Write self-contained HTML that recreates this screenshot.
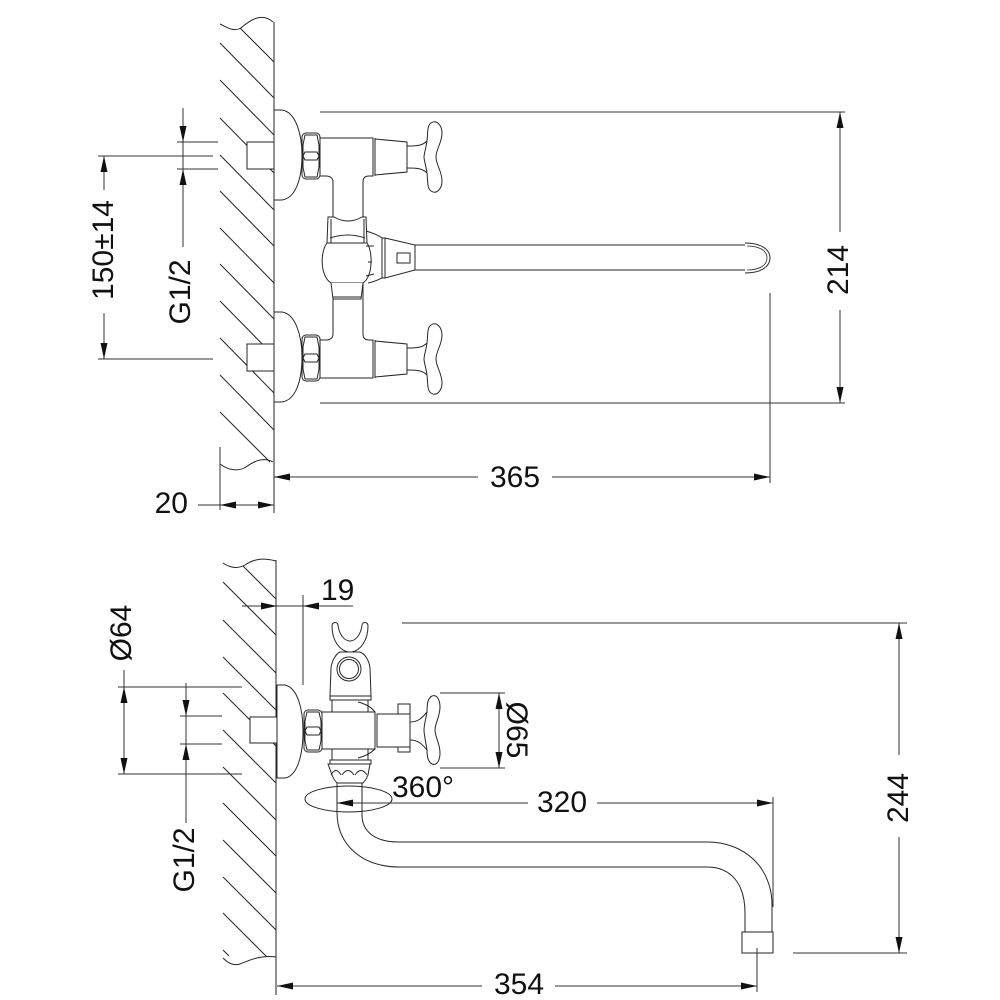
<!DOCTYPE html>
<html><head><meta charset="utf-8"><style>
html,body{margin:0;padding:0;background:#fff}
svg{display:block}
.l{stroke:#262626;stroke-width:1;fill:none}
.w{stroke:#262626;stroke-width:1;fill:#fff}
.d{stroke:#333;stroke-width:1;fill:none}
.a{fill:#111;stroke:none}
text{font-family:"Liberation Sans",sans-serif;font-size:30px;fill:#111}
</style></head><body>
<svg width="1000" height="1000" viewBox="0 0 1000 1000" xmlns="http://www.w3.org/2000/svg">
<!-- ================= TOP VIEW ================= -->
<path class="l" d="M240,28 L274,62 M220,43 L274,98 M220,80 L274,135 M220,118 L274,173 M220,155 L274,210 M220,191 L274,246 M220,228 L274,283 M220,264 L274,319 M220,301 L274,356 M220,338 L274,393 M220,375 L274,430 M220,412 L270,462"/>
<path class="l" d="M220,24 C228,28 234,32 241,28 C250,20 262,12 273,22"/>
<path class="l" d="M220,464 C228,470 238,472 246,467 C254,461 264,457 273,462"/>
<path class="l" d="M274,22 L274,513"/>
<g>
<path class="w" d="M274,110 L282,110 C296,112 302,135 302,155 C302,178 296,198 282,200 L274,200 Z"/>
<rect class="w" x="247" y="142" width="27" height="27"/>
<rect class="w" x="302" y="133" width="18" height="46" rx="4"/>
<path class="l" d="M305,135 L317,135 L319,145 L319,167 L317,177 L305,177 L303,167 L303,145 Z M303,156 L305,152 L317,152 L319,156 L317,160 L305,160 Z"/>
<path class="w" d="M375,139 L407,142 L407,172 L375,175 Z"/>
<path class="l" d="M407,146 C416,146 422,146 427,141 M407,168 C416,168 422,168 427,173"/>
<path class="w" d="M427,141 C428,132 427,126 431,123 C437,119 442,126 442,133 C442,143 436,149 436,157 C436,165 442,171 442,181 C442,188 437,195 431,191 C427,188 428,182 427,173 C426,166 424,160 424,157 C424,154 426,148 427,141 Z"/>
</g>
<g transform="translate(0,202)">
<path class="w" d="M274,110 L282,110 C296,112 302,135 302,155 C302,178 296,198 282,200 L274,200 Z"/>
<rect class="w" x="247" y="142" width="27" height="27"/>
<rect class="w" x="302" y="133" width="18" height="46" rx="4"/>
<path class="l" d="M305,135 L317,135 L319,145 L319,167 L317,177 L305,177 L303,167 L303,145 Z M303,156 L305,152 L317,152 L319,156 L317,160 L305,160 Z"/>
<path class="w" d="M375,139 L407,142 L407,172 L375,175 Z"/>
<path class="l" d="M407,146 C416,146 422,146 427,141 M407,168 C416,168 422,168 427,173"/>
<path class="w" d="M427,141 C428,132 427,126 431,123 C437,119 442,126 442,133 C442,143 436,149 436,157 C436,165 442,171 442,181 C442,188 437,195 431,191 C427,188 428,182 427,173 C426,166 424,160 424,157 C424,154 426,148 427,141 Z"/>
</g>
<path class="w" d="M320,138 L373,138 L373,176 L369,176 C365,176 363,178 363,182 L363,334 C363,338 365,340 369,340 L373,340 L373,378 L320,378 L320,340 L326,340 C330,340 333,338 333,334 L333,182 C333,178 330,176 326,176 L320,176 Z"/>
<path class="l" d="M375,138 L375,176 M375,340 L375,378"/>
<path class="w" d="M328,217 L334,217 Q348,225 362,217 L366,217 L367,243 L327,243 Z"/>
<path class="l" d="M331,219 L331,243 M364,219 L364,243 M330,238 Q348,232 365,238"/>
<path class="w" d="M327,243 C320,252 320,276 331,283 L363,283 C373,276 373,252 367,243 Z"/>
<path class="w" d="M331,283 L333,299 L361,299 L363,283"/>
<path class="l" d="M333,297 L361,297"/>
<path class="l" d="M366,231 C373,233 378,235 382,238 M368,283 C374,282 378,280 382,278 M366,246 L374,246 M368,262 L372,262 M366,276 L374,274"/>
<rect class="w" x="382" y="238" width="3" height="40"/>
<path class="w" d="M385,238 L415,245 L415,270 L385,278 Z"/>
<rect class="l" x="397" y="253" width="13" height="10"/>
<path class="l" d="M415,245 L745,245 M415,270 L745,270"/>
<path class="l" d="M745,243 C762,243 770,250 770,258 C770,266 762,273 745,273"/>
<path class="l" style="stroke-width:0.8" d="M747,246 C760,246 767,251 767,258 C767,265 760,270 747,270"/>
<!-- top dims -->
<path class="d" d="M320,112 L845,112 M320,403 L845,403 M840,112 L840,232 M840,310 L840,403"/>
<polygon class="a" points="840,112 836.5,128 843.5,128"/>
<polygon class="a" points="840,403 836.5,387 843.5,387"/>
<text transform="translate(848,270) rotate(-90)" text-anchor="middle">214</text>
<path class="d" d="M770,293 L770,483 M274,477 L478,477 M552,477 L770,477"/>
<polygon class="a" points="274,477 290,473.5 290,480.5"/>
<polygon class="a" points="770,477 754,473.5 754,480.5"/>
<text x="515" y="487" text-anchor="middle">365</text>
<path class="d" d="M220,447 L220,510 M198,505 L274,505"/>
<polygon class="a" points="220,505 236,501.5 236,508.5"/>
<polygon class="a" points="274,505 258,501.5 258,508.5"/>
<text x="188" y="513" text-anchor="end">20</text>
<path class="d" d="M98,156 L213,156 M98,359 L213,359 M104,156 L104,190 M104,313 L104,359"/>
<polygon class="a" points="104,156 100.5,172 107.5,172"/>
<polygon class="a" points="104,359 100.5,343 107.5,343"/>
<text transform="translate(113,250) rotate(-90)" text-anchor="middle">150±14</text>
<path class="d" d="M177,142 L218,142 M177,169 L218,169 M183,108 L183,247"/>
<polygon class="a" points="183,142 179.5,126 186.5,126"/>
<polygon class="a" points="183,169 179.5,185 186.5,185"/>
<text transform="translate(190,292) rotate(-90)" text-anchor="middle">G1/2</text>

<!-- ================= BOTTOM VIEW ================= -->
<path class="l" d="M243,566 L276,599 M223,582 L276,635 M223,620 L276,673 M223,657 L276,710 M223,693 L276,746 M223,730 L276,783 M223,767 L276,820 M223,803 L276,856 M223,840 L276,893 M223,877 L276,930 M223,913 L267,957 M223,950 L229,956"/>
<path class="l" d="M223,563 C230,568 238,569 245,565 C255,558 265,558 276,561"/>
<path class="l" d="M223,958 C228,963 233,966 240,964 C250,960 260,955 276,957"/>
<path class="l" d="M276,560 L276,995"/>
<path class="w" d="M277,685 L285,685 C298,688 303,710 303,731 C303,753 298,776 285,778 L277,778 Z"/>
<rect class="w" x="250" y="717" width="27" height="26"/>
<rect class="w" x="304" y="710" width="18" height="42" rx="4"/>
<path class="l" d="M307,712 L319,712 L321,721 L321,741 L319,750 L307,750 L305,741 L305,721 Z M305,731 L307,727 L319,727 L321,731 L319,735 L307,735 Z"/>
<path class="w" d="M332,626 C332,622 337,621 338,625 C339,634 344,641 350,641 C356,641 361,634 362,625 C363,621 368,622 368,626 C368,640 361,650 352,652 L348,652 C339,650 332,640 332,626 Z"/>
<path class="w" d="M330,696 L331,668 C332,660 336,654 340,652 L360,652 C365,654 369,660 370,668 L371,696 Z"/>
<circle class="w" cx="349" cy="669" r="12"/>
<circle class="l" cx="349" cy="669" r="9.5"/>
<rect class="w" x="330" y="696" width="41" height="4"/>
<rect class="w" x="332" y="700" width="36" height="12"/>
<path class="l" d="M358,702 C366,704 372,708 375,712"/>
<rect class="w" x="322" y="712" width="53" height="37"/>
<rect class="w" x="398" y="704" width="12" height="10"/>
<rect class="w" x="398" y="747" width="12" height="5"/>
<rect class="w" x="377" y="714" width="33" height="33"/>
<path class="l" d="M375,712 L375,749"/>
<path class="l" d="M410,722 C418,722 422,718 427,712 M410,740 C418,740 422,744 427,750"/>
<path class="w" d="M427,712 C427,703 428,698 432,696 C437,694 440,700 440,707 C440,717 435,723 435,730 C435,737 440,743 440,753 C440,760 437,766 432,764 C428,762 427,757 427,750 C426,743 424,735 424,730 C424,725 426,718 427,712 Z"/>
<rect class="w" x="332" y="749" width="36" height="11"/>
<path class="l" d="M358,758 C366,756 372,752 375,749"/>
<rect class="w" x="330" y="760" width="41" height="4"/>
<path class="w" d="M328,764 L370,764 L368,775 C366,780 364,782 363,783 L337,783 C336,782 334,780 332,775 Z"/>
<path class="l" d="M331,775 Q336,766 341,775 M342,775 Q348,766 354,775 M355,775 Q361,766 367,775"/>
<ellipse class="l" cx="348.5" cy="799" rx="43.5" ry="13"/>
<path class="l" d="M337,783 L337,812 C337,845 362,867 400,867 L707,867 C732,867 745,885 745,913 L745,932"/>
<path class="l" d="M362,783 L362,815 C362,832 376,842 398,842 L707,842 C745,842 772,868 772,905 L772,932"/>
<rect class="w" x="742" y="932" width="31" height="21"/>
<text x="392" y="797">360°</text>
<path class="d" d="M337,803 L528,803 M597,803 L773,803 M773,797 L773,907"/>
<polygon class="a" points="337,803 353,799.5 353,806.5"/>
<polygon class="a" points="773,803 757,799.5 757,806.5"/>
<text x="562" y="812" text-anchor="middle">320</text>
<path class="d" d="M277,986 L482,986 M555,986 L757,986 M757,948 L757,992"/>
<polygon class="a" points="277,986 293,982.5 293,989.5"/>
<polygon class="a" points="757,986 741,982.5 741,989.5"/>
<text x="519" y="994" text-anchor="middle">354</text>
<path class="d" d="M242,606 L353,606 M303,595 L303,685"/>
<polygon class="a" points="277,606 261,602.5 261,609.5"/>
<polygon class="a" points="303,606 319,602.5 319,609.5"/>
<text x="321" y="600">19</text>
<path class="d" d="M118,687 L242,687 M118,774 L242,774 M124,670 L124,774"/>
<polygon class="a" points="124,687 120.5,703 127.5,703"/>
<polygon class="a" points="124,774 120.5,758 127.5,758"/>
<text transform="translate(131,633) rotate(-90)" text-anchor="middle">Ø64</text>
<path class="d" d="M180,716 L222,716 M180,744 L222,744 M186,683 L186,823"/>
<polygon class="a" points="186,716 182.5,700 189.5,700"/>
<polygon class="a" points="186,744 182.5,760 189.5,760"/>
<text transform="translate(194,860) rotate(-90)" text-anchor="middle">G1/2</text>
<path class="d" d="M440,693 L505,693 M440,768 L505,768 M499,693 L499,768"/>
<polygon class="a" points="499,693 495.5,709 502.5,709"/>
<polygon class="a" points="499,768 495.5,752 502.5,752"/>
<text transform="translate(507,730) rotate(90)" text-anchor="middle">Ø65</text>
<path class="d" d="M402,623 L907,623 M793,953 L907,953 M899,623 L899,755 M899,837 L899,953"/>
<polygon class="a" points="899,623 895.5,639 902.5,639"/>
<polygon class="a" points="899,953 895.5,937 902.5,937"/>
<text transform="translate(908,798) rotate(-90)" text-anchor="middle">244</text>
</svg>
</body></html>
